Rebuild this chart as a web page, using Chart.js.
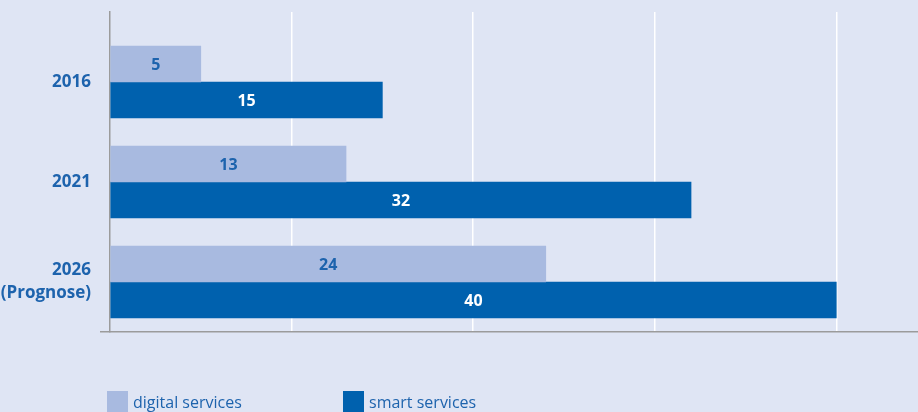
<!DOCTYPE html>
<html>
<head>
<meta charset="utf-8">
<script src="https://cdn.jsdelivr.net/npm/chart.js@4/dist/chart.umd.min.js"></script>
<style>
  html, body { margin: 0; padding: 0; background: #dfe5f4; }
  #wrap { width: 918px; height: 412px; }
</style>
</head>
<body>
<div id="wrap"><canvas id="c" width="918" height="412"></canvas></div>
<script>
// ---- data ----
const years = ['2016', '2021', ['2026', '(Prognose)']];
const seriesNames = ['digital services', 'smart services'];
const digitalServices = [5, 13, 24];
const smartServices = [15, 32, 40];
const xTicks = [0, 10, 20, 30, 40];

// ---- styles ----
const BG = '#dfe5f4';
const LIGHT = '#a8bae0';
const DARK = '#0061ae';
const TEXT_BLUE = '#1d63ad';
const AXIS = '#9b9b9b';

const yPositions = years.map((_, i) => i);

const bgPlugin = {
  id: 'bg',
  beforeDraw(chart) {
    const ctx = chart.ctx;
    ctx.save();
    ctx.fillStyle = BG;
    ctx.fillRect(0, 0, chart.width, chart.height);
    ctx.restore();
  }
};

const valueLabels = {
  id: 'valueLabels',
  afterDatasetsDraw(chart, args, opts) {
    const ctx = chart.ctx;
    ctx.save();
    ctx.font = 'bold 16px "Open Sans", sans-serif';
    ctx.textAlign = 'center';
    ctx.textBaseline = 'middle';
    chart.data.datasets.forEach((ds, di) => {
      const meta = chart.getDatasetMeta(di);
      ctx.fillStyle = opts.colors[di];
      meta.data.forEach((el, i) => {
        const v = ds.data[i].x;
        ctx.fillText(String(v), (el.x + el.base) / 2, el.y + 1);
      });
    });
    ctx.restore();
  }
};

const customLegend = {
  id: 'customLegend',
  afterDraw(chart, args, opts) {
    const ctx = chart.ctx;
    ctx.save();
    ctx.font = '16px "Open Sans", sans-serif';
    ctx.textBaseline = 'alphabetic';
    ctx.textAlign = 'left';
    chart.data.datasets.forEach((ds, di) => {
      const x = opts.xs[di];
      ctx.fillStyle = ds.backgroundColor;
      ctx.fillRect(x, opts.top, opts.box, opts.box);
      ctx.fillStyle = TEXT_BLUE;
      ctx.fillText(ds.label, x + opts.box + 5, opts.baseline);
    });
    ctx.restore();
  }
};

new Chart(document.getElementById('c'), {
  type: 'bar',
  data: {
    datasets: [
      {
        label: seriesNames[0],
        data: digitalServices.map((v, i) => ({ x: v, y: yPositions[i] })),
        backgroundColor: LIGHT
      },
      {
        label: seriesNames[1],
        data: smartServices.map((v, i) => ({ x: v, y: yPositions[i] })),
        backgroundColor: DARK
      }
    ]
  },
  options: {
    indexAxis: 'y',
    responsive: false,
    animation: false,
    barThickness: 36,
    layout: { padding: { top: 12, bottom: 80, left: 0, right: 0 } },
    scales: {
      x: {
        type: 'linear',
        position: 'bottom',
        min: 0,
        max: 44.5,
        afterBuildTicks: s => { s.ticks = xTicks.map(v => ({ value: v })); },
        afterFit: s => { s.height = 0; s.paddingLeft = 0; s.paddingRight = 0; },
        ticks: { display: false },
        grid: {
          drawTicks: false,
          lineWidth: 1.5,
          color: ctx => (ctx.tick && ctx.tick.value === 0) ? 'rgba(0,0,0,0)' : '#ffffff'
        },
        border: { display: true, color: AXIS, width: 1.5 }
      },
      y: {
        type: 'linear',
        position: 'left',
        reverse: true,
        offset: false,
        min: -0.7,
        max: 2.5,
        afterBuildTicks: s => { s.ticks = [...yPositions, 2.5].map(v => ({ value: v })); },
        afterFit: s => { s.width = 110; s.paddingTop = 0; s.paddingBottom = 0; },
        ticks: {
          padding: 9,
          color: TEXT_BLUE,
          font: { family: '"Open Sans", sans-serif', size: 17, weight: 'bold', lineHeight: 1.35 },
          callback: v => (years[v] !== undefined ? years[v] : '')
        },
        grid: {
          offset: false,
          drawOnChartArea: false,
          drawTicks: true,
          tickLength: 10,
          lineWidth: 1.5,
          color: ctx => (ctx.tick && ctx.tick.value === 2.5) ? AXIS : 'rgba(0,0,0,0)'
        },
        border: { display: true, color: AXIS, width: 1.5 }
      }
    },
    plugins: {
      legend: { display: false },
      tooltip: { enabled: false },
      valueLabels: { colors: [TEXT_BLUE, '#ffffff'] },
      customLegend: { xs: [107, 343], top: 391, box: 21, baseline: 408 }
    }
  },
  plugins: [bgPlugin, valueLabels, customLegend]
});
</script>
</body>
</html>
